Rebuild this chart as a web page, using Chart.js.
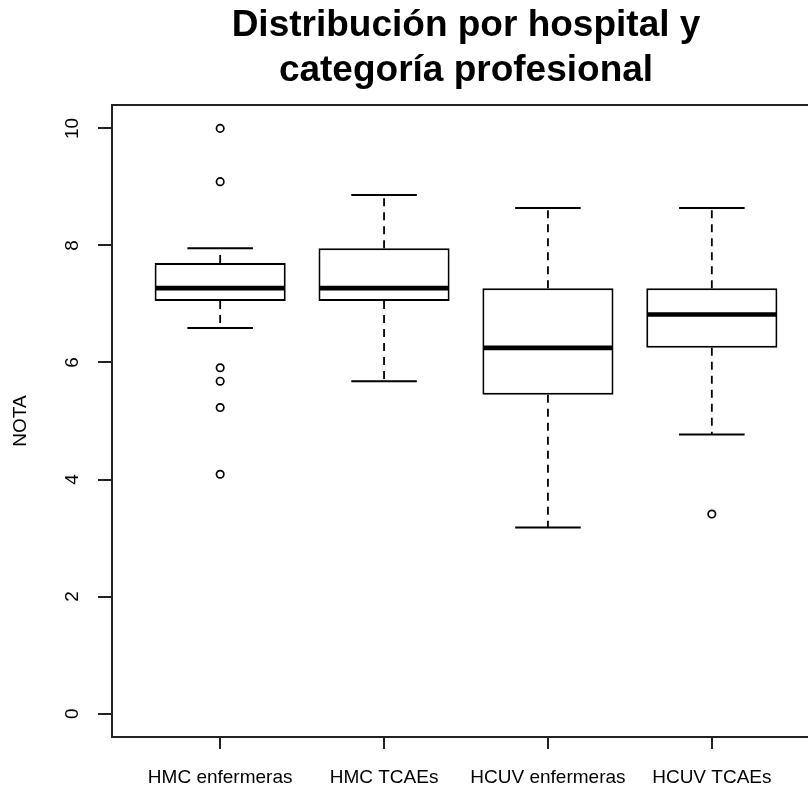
<!DOCTYPE html>
<html>
<head>
<meta charset="utf-8">
<script src="https://cdn.jsdelivr.net/npm/chart.js@4/dist/chart.umd.min.js"></script>
<style>
  html, body { margin: 0; padding: 0; background: #fff; overflow: hidden; width: 808px; height: 789px; }
  #wrap { width: 840px; height: 789px; }
</style>
</head>
<body>
<div id="wrap"><canvas id="c" width="840" height="789"></canvas></div>
<script>
const categories  = ['HMC enfermeras', 'HMC TCAEs', 'HCUV enfermeras', 'HCUV TCAEs'];
const whiskerLow  = [6.59, 5.68, 3.18, 4.77];
const q1          = [7.05, 7.05, 5.45, 6.25];
const median      = [7.27, 7.27, 6.25, 6.82];
const q3          = [7.70, 7.95, 7.27, 7.27];
const whiskerHigh = [7.95, 8.86, 8.64, 8.64];
const outlierGroup = [1, 1, 1, 1, 1, 1, 4];
const outlierValue = [10.0, 9.09, 5.91, 5.68, 5.23, 4.09, 3.41];
const yTicks = [0, 2, 4, 6, 8, 10];
const titleLines = ['Distribución por hospital y', 'categoría profesional'];
const yTitle = 'NOTA';

const FONT = "'Liberation Sans', Arial, Helvetica, sans-serif";

const boxPlugin = {
  id: 'boxExtras',
  afterDatasetsDraw(chart) {
    const ctx = chart.ctx;
    const xs = chart.scales.x, ys = chart.scales.y;
    const barMeta = chart.getDatasetMeta(0);
    ctx.save();
    ctx.strokeStyle = '#000';
    categories.forEach((c, i) => {
      const cx = xs.getPixelForValue(i + 1);
      const bw = barMeta.data[i].width;
      const cap = bw / 2;
      ctx.setLineDash([8, 6]);
      ctx.lineWidth = 1.8;
      ctx.beginPath();
      ctx.moveTo(cx, ys.getPixelForValue(q3[i]));
      ctx.lineTo(cx, ys.getPixelForValue(whiskerHigh[i]));
      ctx.moveTo(cx, ys.getPixelForValue(q1[i]));
      ctx.lineTo(cx, ys.getPixelForValue(whiskerLow[i]));
      ctx.stroke();
      ctx.setLineDash([]);
      ctx.lineWidth = 2;
      ctx.beginPath();
      const yh = ys.getPixelForValue(whiskerHigh[i]);
      const yl = ys.getPixelForValue(whiskerLow[i]);
      ctx.moveTo(cx - cap / 2, yh); ctx.lineTo(cx + cap / 2, yh);
      ctx.moveTo(cx - cap / 2, yl); ctx.lineTo(cx + cap / 2, yl);
      ctx.stroke();
      ctx.lineWidth = 4.6;
      ctx.beginPath();
      const ym = ys.getPixelForValue(median[i]);
      ctx.moveTo(cx - bw / 2 + 1, ym); ctx.lineTo(cx + bw / 2 - 1, ym);
      ctx.stroke();
    });
    ctx.restore();
  },
  afterDraw(chart) {
    const ctx = chart.ctx;
    const a = chart.chartArea;
    const ys = chart.scales.y;
    ctx.save();
    ctx.strokeStyle = '#222';
    ctx.lineWidth = 2;
    ctx.strokeRect(a.left, a.top, a.right - a.left, a.bottom - a.top);
    ctx.fillStyle = '#000';
    ctx.font = '19px ' + FONT;
    ctx.textAlign = 'center';
    ctx.textBaseline = 'middle';
    yTicks.forEach(v => {
      const y = ys.getPixelForValue(v);
      ctx.save();
      ctx.translate(73, y);
      ctx.rotate(-Math.PI / 2);
      ctx.fillText(String(v), 0, 0);
      ctx.restore();
    });
    ctx.restore();
  }
};

new Chart(document.getElementById('c'), {
  data: {
    datasets: [
      {
        type: 'bar',
        data: categories.map((c, i) => ({ x: i + 1, y: [q1[i], q3[i]] })),
        backgroundColor: '#fff',
        borderColor: '#000',
        borderWidth: 2,
        borderSkipped: false,
        categoryPercentage: 1,
        barPercentage: 0.8,
        order: 2
      },
      {
        type: 'scatter',
        data: outlierValue.map((v, i) => ({ x: outlierGroup[i], y: v })),
        pointStyle: 'circle',
        pointRadius: 3.7,
        pointBorderWidth: 1.7,
        pointBorderColor: '#000',
        pointBackgroundColor: 'rgba(0,0,0,0)',
        order: 1
      }
    ]
  },
  options: {
    responsive: false,
    devicePixelRatio: 1,
    animation: false,
    layout: { padding: { left: 0, right: 20, top: 0, bottom: 0 } },
    plugins: {
      legend: { display: false },
      tooltip: { enabled: false },
      title: {
        display: true,
        text: titleLines,
        fullSize: false,
        color: '#000',
        font: { family: FONT, size: 37, weight: 'bold', lineHeight: 1.2 },
        padding: { top: 4, bottom: 12.2 }
      }
    },
    scales: {
      x: {
        type: 'linear',
        position: 'bottom',
        offset: false,
        min: 0.34,
        max: 4.66,
        afterBuildTicks: s => { s.ticks = categories.map((c, i) => ({ value: i + 1 })); },
        afterFit: s => { s.height = 52; },
        ticks: {
          callback: v => categories[v - 1] || '',
          color: '#000',
          font: { family: FONT, size: 19 },
          padding: 17,
          maxRotation: 0,
          autoSkip: false
        },
        grid: { offset: false, drawOnChartArea: false, drawTicks: true, tickLength: 12, color: '#222', lineWidth: 2 },
        border: { display: false }
      },
      y: {
        type: 'linear',
        position: 'left',
        min: -0.4,
        max: 10.4,
        afterBuildTicks: s => { s.ticks = yTicks.map(v => ({ value: v })); },
        afterFit: s => { s.width = 112; },
        ticks: { display: false },
        grid: { drawOnChartArea: false, drawTicks: true, tickLength: 14, color: '#222', lineWidth: 2 },
        border: { display: false },
        title: {
          display: true,
          text: yTitle,
          color: '#000',
          font: { family: FONT, size: 19, lineHeight: 1.2 },
          padding: { top: 9, bottom: 0 }
        }
      }
    }
  },
  plugins: [boxPlugin]
});
</script>
</body>
</html>
